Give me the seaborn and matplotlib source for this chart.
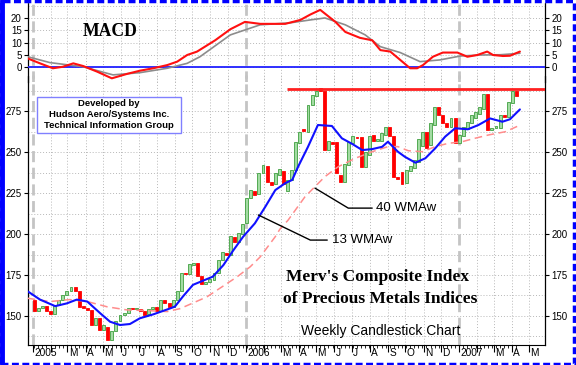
import numpy as np
import pandas as pd
import matplotlib
matplotlib.use("Agg")
import matplotlib.pyplot as plt
from matplotlib.patches import Rectangle
from matplotlib.lines import Line2D
import seaborn as sns

# weekly candles (Jan 2005 - Apr 2007)
first_week = "2005-01-03"
opens = [160, 153, 155, 156, 153, 151, 157, 159.5, 162.5, 165.5,
         167.5, 165.5, 155.5, 155, 153.5, 144.5, 148.5, 141.5, 143.5, 135.5,
         141, 147, 150.5, 152, 155, 154, 154.5, 153, 151, 154,
         155.5, 153, 160, 158, 155.5, 160, 165.5, 176.5, 175.5, 181,
         182.5, 174.5, 169.5, 171, 172, 176, 184, 188.5, 187.5, 198,
         195, 200, 206.5, 222, 226, 224.5, 237, 241.5, 231.5, 230.5,
         236, 238.5, 226, 233, 239, 255.5, 264, 262.5, 278.5, 284,
         289, 287, 251, 256, 256, 236, 232, 242, 255.5, 259,
         259, 241, 248, 260.5, 256.5, 256.5, 260.5, 265.5, 259.5, 235,
         238, 231, 238.5, 240, 244, 253.5, 262.5, 254.5, 266.5, 277.5,
         272.5, 268, 265.5, 270.5, 255.5, 260, 264, 267.5, 271, 273.5,
         276.5, 285.5, 263.5, 264.5, 264.5, 272.5, 271.5, 280, 287.5]
closes = [153, 155, 156, 153, 151, 157, 159.5, 162.5, 165.5, 167.5,
          165.5, 155.5, 155, 153.5, 144.5, 148.5, 141.5, 144.5, 135.5, 141,
          147, 150.5, 152, 155, 154, 154.5, 153, 150.5, 154, 155.5,
          153, 160, 158, 155.5, 160, 165.5, 176.5, 175.5, 182, 182.5,
          174.5, 169.5, 171, 172.5, 176, 184, 189, 187.5, 198.5, 195,
          200.5, 206, 222, 227, 224, 237.5, 242, 231.5, 230, 237,
          239.5, 230.5, 233, 239, 256, 262.5, 263, 278.5, 284.5, 287.5,
          287, 251, 257, 255, 237, 232, 243, 256, 259.5, 258.5,
          241, 250, 260, 256.5, 258, 261.5, 265, 259.5, 235, 233.5,
          230.5, 239, 241.5, 245, 258, 262.5, 252.5, 267.5, 277.5, 272.5,
          268, 265, 270.5, 255.5, 260.5, 265.5, 268.5, 272.5, 274.5, 277.5,
          285.5, 263.5, 264.5, 266, 272.5, 271.5, 280.5, 287.5, 284]

# moving averages (days after 2005-01-01)
wma13_day = [-9, 12, 38, 58, 75, 93, 115, 132, 149, 166, 183, 206, 230, 243, 257,
             274, 291, 308, 326, 343, 360, 380, 398, 415, 432, 444, 454, 471, 488,
             512, 529, 547, 564, 581, 598, 608, 625, 637, 655, 672, 689, 706, 723,
             745, 763, 783, 804, 817, 834]
wma13_val = [165, 160, 156, 157.7, 160, 158.8, 151.7, 146.5, 144.5, 145.1, 148.6, 151,
             154, 155.7, 162, 169, 171.5, 174, 181, 190, 198.4, 206.5, 216.7, 226.8,
             231, 233, 241, 253.2, 266.5, 265.9, 258.4, 254.9, 251.2, 251.8, 253.2,
             256.3, 250.2, 247.1, 243.5, 246.2, 252.3, 259.4, 264.5, 263.9, 266.5,
             270.5, 268.5, 270, 276]
wma40_day = [-9, 29, 63, 93, 127, 161, 195, 230, 252, 286, 298, 320, 350, 372, 389,
             415, 423, 437, 466, 483, 500, 523, 552, 581, 608, 625, 643, 667, 689,
             711, 735, 757, 780, 809, 831]
wma40_val = [160.8, 158.8, 160, 158.8, 155.6, 153.7, 153.3, 152.7, 154.5, 159.8,
             161.7, 166.9, 174, 180, 186, 198.4, 203, 208.5, 222.8, 228.9, 235,
             241.1, 246.2, 250.2, 253.3, 253.3, 250.8, 250.2, 253.3, 255.3, 256.3,
             258.4, 260.4, 262.4, 265.9]
resistance = 288.5
resistance_from_day = 435

# MACD panel
macd_day = [-9, 12, 34, 51, 69, 86, 110, 135, 161, 183, 206, 230, 247, 264, 281,
            312, 338, 363, 389, 432, 458, 475, 492, 518, 535, 560, 581, 595, 612,
            629, 646, 658, 668, 685, 702, 727, 744, 761, 778, 788, 805, 817, 834]
macd_val = [3.6, 1.6, -0.4, 0.2, 1.6, 0.5, -1.8, -4.5, -2.7, -1.4, -0.4, 0.9, 2.3,
            5, 6.4, 11, 15.5, 18.5, 17.7, 17.7, 19.3, 21.5, 23.4, 18.5, 14.4, 12,
            11, 7, 6.4, 3, -0.4, -0.4, 0.9, 4.3, 6, 6, 4.3, 5, 6.4, 5, 4.6, 4.7, 6.4]
signal_day = [-9, 29, 86, 137, 183, 230, 264, 286, 338, 389, 440, 475, 500, 535,
              569, 595, 629, 663, 697, 732, 766, 800, 834]
signal_val = [4.3, 1.9, 0.2, -3.1, -2.2, -0.4, 1.6, 4.3, 13.2, 17.3, 18.1, 19.3,
              20.1, 17.3, 13.2, 8.4, 6, 2.3, 3, 4.6, 5, 5.1, 5.7]

price_ticks = [150, 175, 200, 225, 250, 275]
macd_ticks = [0, 5, 10, 15, 20]

sns.set_style("white")
plt.rcParams["font.family"] = ["Liberation Sans", "DejaVu Sans"]
plt.rcParams["text.color"] = "black"
plt.rcParams["xtick.color"] = "black"
plt.rcParams["ytick.color"] = "black"

base = pd.Timestamp("2005-01-01")
dates = pd.date_range(first_week, periods=len(closes), freq="7D")
cdays = np.array((dates - base).days, dtype=float)
months = pd.date_range("2005-01-01", "2007-05-01", freq="MS")
mdays = np.array((months - base).days, dtype=float)
years = [d for d, m in zip(mdays, months) if m.month == 1]
xmin, xmax = -8.6, 877

fig = plt.figure(figsize=(5.76, 3.65), dpi=100)
ax = fig.add_axes([28 / 576, 1 - 345 / 365, 517 / 576, 270 / 365])
axm = fig.add_axes([28 / 576, 1 - 82 / 365, 517 / 576, 79 / 365])
axm.set_facecolor("none")
axm.set_zorder(ax.get_zorder() + 1)

grid_kw = dict(color="#b8b8b8", lw=0.7, ls=(0, (1, 2)), zorder=0)
for a in (ax, axm):
    a.set_xlim(xmin, xmax)
    for d in mdays:
        if d not in years:
            a.axvline(d, **grid_kw)
    for d in years:
        a.axvline(d, color="#c4c4c4", lw=2, ls=(0, (4, 2)), zorder=0.5)
    for s in ("left", "right"):
        a.spines[s].set_linestyle((0, (1, 1)))
        a.spines[s].set_color("black")
        a.spines[s].set_linewidth(0.9)
    a.spines["top"].set_visible(False)
    a.tick_params(axis="y", which="both", left=True, right=True, labelleft=True,
                  labelright=True, direction="out", length=3, width=0.8,
                  labelsize=7, pad=1.5)

# price panel
ax.set_ylim(132.3, 297)
for v in np.arange(137.5, 297, 12.5):
    ax.axhline(v, **grid_kw)
ax.set_yticks(price_ticks)
ax.spines["bottom"].set_color("black")
ax.spines["bottom"].set_linewidth(0.8)

up = np.array(closes) >= np.array(opens)
lo = np.minimum(opens, closes)
hi = np.maximum(opens, closes)
h = np.maximum(hi - lo, 0.8)
ax.bar(cdays[up], h[up], bottom=lo[up], width=5, color="#a3dca3",
       edgecolor="#3f9f3f", linewidth=0.6, zorder=3)
ax.bar(cdays[~up], h[~up], bottom=lo[~up], width=5, color="#ff0000",
       edgecolor="#ff0000", linewidth=0.6, zorder=3)

sns.lineplot(x=wma40_day, y=wma40_val, ax=ax, color="#ff8c8c", lw=1.1,
             dashes=False, zorder=4).lines[-1].set_dashes([5, 3])
sns.lineplot(x=wma13_day, y=wma13_val, ax=ax, color="#1010ff", lw=1.5, zorder=5)
ax.hlines(resistance, resistance_from_day, xmax, color="#ff2020", lw=2, zorder=5)

ax.set_xticks(mdays)
ax.set_xticks(cdays, minor=True)
ax.tick_params(axis="x", which="major", bottom=True, length=5, width=0.8,
               direction="out", labelbottom=False)
ax.tick_params(axis="x", which="minor", bottom=True, length=2.5, width=0.6,
               direction="out")
ax.set_xlabel("")
ax.set_ylabel("")
for d, m in zip(mdays, months):
    if m.month == 2:
        continue
    lab = str(m.year) if m.month == 1 else m.strftime("%b")[0]
    ax.text(d + 2, -0.012, lab, transform=ax.get_xaxis_transform(), ha="left",
            va="top", fontsize=7.3)

# annotations
ax.plot([483, 540, 581], [228, 215.8, 215.8], color="black", lw=1, zorder=6)
ax.text(587, 215.8, "40 WMAw", fontsize=9.5, va="center", ha="left")
ax.plot([386, 475, 504], [211.6, 196.3, 196.3], color="black", lw=1, zorder=6)
ax.text(512, 196.3, "13 WMAw", fontsize=9.5, va="center", ha="left")

# MACD panel
axm.set_ylim(-6.0, 26.2)
for v in np.arange(0, 26, 5):
    axm.axhline(v, **grid_kw)
axm.set_yticks(macd_ticks)
axm.set_xticks([])
axm.spines["bottom"].set_visible(False)
axm.axhline(0, color="#2020ff", lw=1.3, zorder=3)
sns.lineplot(x=signal_day, y=signal_val, ax=axm, color="#8c8c8c", lw=1.2, zorder=4)
sns.lineplot(x=macd_day, y=macd_val, ax=axm, color="#ff1010", lw=1.5, zorder=5)
axm.set_xlabel("")
axm.set_ylabel("")

fig.text(83 / 576, 1 - 32 / 365, "MACD", family=["Liberation Serif"],
         weight="bold", fontsize=12.7, va="center", ha="left")

# developer box
fig.patches.append(Rectangle((37 / 576, 1 - 133 / 365), 144 / 576, 36 / 365,
                             transform=fig.transFigure, facecolor="white",
                             edgecolor="#8080ff", lw=1, zorder=5))
for txt, y in [("Developed by", 103), ("Hudson Aero/Systems Inc.", 115),
               ("Technical Information Group", 126)]:
    fig.text(109 / 576, 1 - y / 365, txt, fontsize=6.8, weight="bold",
             ha="center", va="center", zorder=6)

fig.text(378 / 576, 1 - 277 / 365, "Merv's Composite Index",
         family=["Liberation Serif"], weight="bold", fontsize=12.5,
         ha="center", va="center")
fig.text(380 / 576, 1 - 299 / 365, "of Precious Metals Indices",
         family=["Liberation Serif"], weight="bold", fontsize=12.5,
         ha="center", va="center")
fig.text(381 / 576, 1 - 331 / 365, "Weekly Candlestick Chart", fontsize=10,
         ha="center", va="center")

# blue frame
fig.patches.append(Rectangle((0.002, 0.004), 0.995, 0.993,
                             transform=fig.transFigure, fill=False,
                             edgecolor="#0000ff", lw=2.5, ls=(0, (2, 1))))
fig.lines.append(Line2D([0.003, 0.003], [0, 1], transform=fig.transFigure,
                        color="#0000ff", lw=3.5))

fig.savefig("out.png", dpi=100)
